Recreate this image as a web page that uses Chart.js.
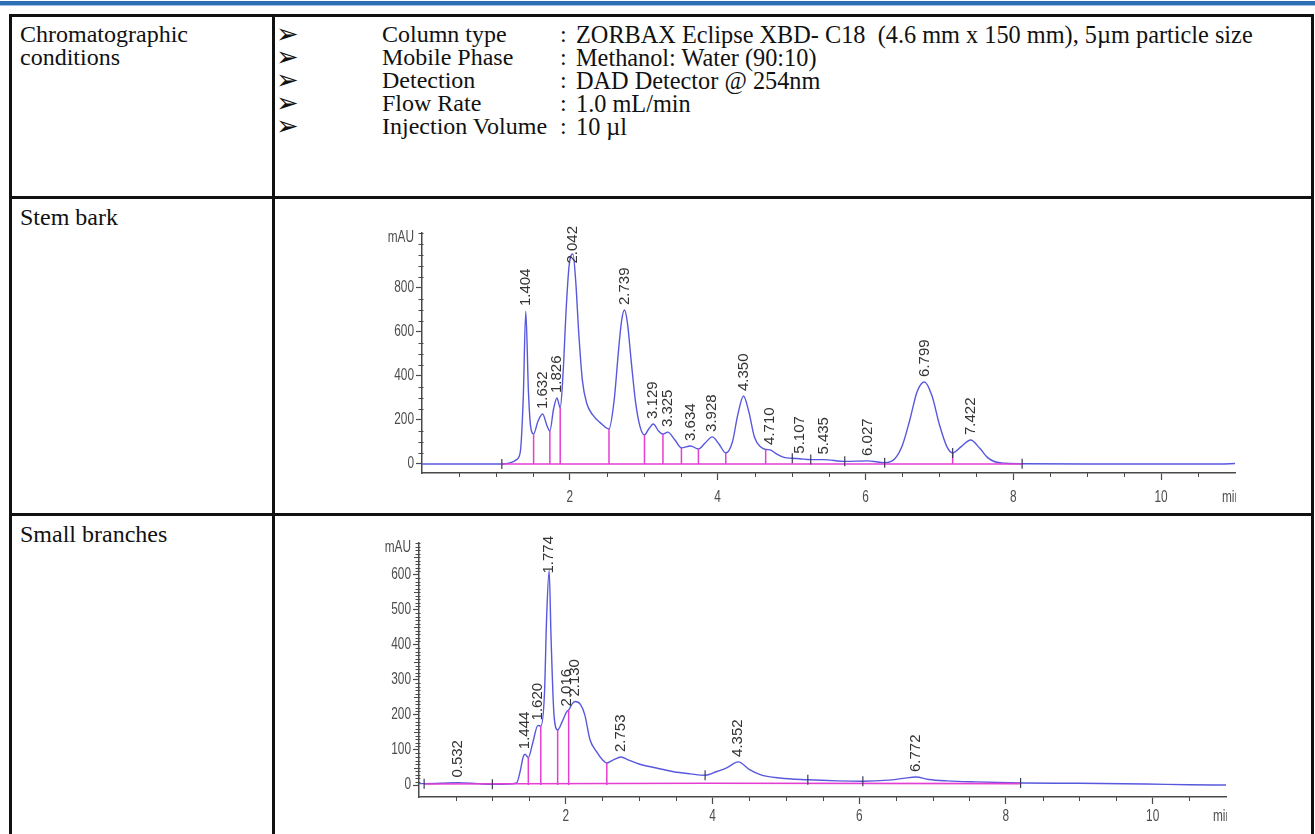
<!DOCTYPE html>
<html>
<head>
<meta charset="utf-8">
<script src="https://cdn.jsdelivr.net/npm/chart.js@4.4.1/dist/chart.umd.min.js"></script>
<style>
  html, body { margin: 0; padding: 0; background: #fff; }
  body { width: 1315px; height: 834px; position: relative; overflow: hidden;
         font-family: 'Liberation Serif', 'Times New Roman', serif; color: #111; }
  .rule { position: absolute; left: 0; top: 1px; width: 1315px; height: 4px; background: #2d6fb6; }
  .rule2 { position: absolute; left: 0; top: 5px; width: 1315px; height: 1px; background: #9cc0e4; }
  .b { position: absolute; background: #111; z-index: 5; }
  .t { position: absolute; font-size: 24px; line-height: 23px; white-space: pre; }
  .v { font-size: 24.3px; }
  .arw { font-family: 'DejaVu Sans', sans-serif; font-size: 27px; }
  canvas { position: absolute; }
</style>
</head>
<body>
<div class="rule"></div><div class="rule2"></div>

<!-- table grid -->
<div class="b" style="left:9px;top:14px;width:1305px;height:3px"></div>
<div class="b" style="left:9px;top:14px;width:3px;height:820px"></div>
<div class="b" style="left:1311px;top:14px;width:3px;height:820px"></div>
<div class="b" style="left:272px;top:14px;width:3px;height:820px"></div>
<div class="b" style="left:9px;top:196px;width:1305px;height:3px"></div>
<div class="b" style="left:9px;top:513px;width:1305px;height:3px"></div>

<!-- row 1: conditions -->
<div class="t" style="left:20px;top:23px">Chromatographic</div>
<div class="t" style="left:20px;top:46px">conditions</div>

<div class="t arw" style="left:276px;top:22px">➢</div>
<div class="t arw" style="left:276px;top:45px">➢</div>
<div class="t arw" style="left:276px;top:68px">➢</div>
<div class="t arw" style="left:276px;top:91px">➢</div>
<div class="t arw" style="left:276px;top:114px">➢</div>

<div class="t" style="left:382px;top:23px">Column type</div>
<div class="t" style="left:382px;top:46px">Mobile Phase</div>
<div class="t" style="left:382px;top:69px">Detection</div>
<div class="t" style="left:382px;top:92px">Flow Rate</div>
<div class="t" style="left:382px;top:115px">Injection Volume</div>

<div class="t" style="left:560px;top:23px">:</div>
<div class="t" style="left:560px;top:46px">:</div>
<div class="t" style="left:560px;top:69px">:</div>
<div class="t" style="left:560px;top:92px">:</div>
<div class="t" style="left:560px;top:115px">:</div>
<div class="t v" style="left:576px;top:23px">ZORBAX Eclipse XBD- C18  (4.6 mm x 150 mm), 5µm particle size</div>
<div class="t v" style="left:576px;top:46px">Methanol: Water (90:10)</div>
<div class="t v" style="left:576px;top:69px">DAD Detector @ 254nm</div>
<div class="t v" style="left:576px;top:92px">1.0 mL/min</div>
<div class="t v" style="left:576px;top:115px">10 µl</div>

<!-- rows 2 and 3 -->
<div class="t" style="left:20px;top:206px">Stem bark</div>
<div class="t" style="left:20px;top:523px">Small branches</div>

<canvas id="stem" width="1034" height="313" style="left:277px;top:199px"></canvas>
<canvas id="branch" width="1034" height="317" style="left:277px;top:517px"></canvas>

<script>
// shared time axis (min)
const timeTicks = [2, 4, 6, 8, 10];

// ---- Stem bark chromatogram (mAU vs min) ----
const stemTicks = [0, 200, 400, 600, 800];
const stemTime = [0, 0.5, 1.0, 1.08, 1.2, 1.28, 1.33, 1.37, 1.404, 1.44, 1.47, 1.51, 1.57, 1.632, 1.69, 1.73,
  1.78, 1.826, 1.87, 1.91, 1.95, 1.99, 2.042, 2.08, 2.12, 2.17, 2.23, 2.31, 2.41, 2.53, 2.60, 2.66, 2.70,
  2.739, 2.78, 2.83, 2.89, 2.95, 3.01, 3.07, 3.129, 3.20, 3.26, 3.325, 3.42, 3.51, 3.634, 3.74, 3.83, 3.928,
  4.02, 4.11, 4.20, 4.27, 4.350, 4.42, 4.50, 4.58, 4.65, 4.710, 4.80, 4.90, 5.01, 5.107, 5.26, 5.435, 5.72,
  6.027, 6.26, 6.40, 6.50, 6.60, 6.70, 6.799, 6.90, 7.00, 7.10, 7.18, 7.30, 7.422, 7.55, 7.65, 7.75, 7.90,
  8.12, 9.0, 10.0, 10.8, 11.0];
const stemAbs = [0, 0, 0, 0, 6, 20, 55, 300, 695, 330, 170, 137, 195, 227, 175, 150,
  250, 300, 255, 420, 700, 900, 955, 830, 600, 380, 275, 223, 188, 159, 290, 520, 650,
  700, 640, 470, 280, 170, 132, 160, 182, 150, 136, 145, 110, 73, 82, 68, 95, 123,
  90, 50, 100, 220, 309, 240, 120, 78, 66, 64, 45, 30, 26, 24, 20, 20, 12,
  14, 6, 25, 85, 200, 330, 373, 310, 180, 80, 50, 80, 109, 70, 30, 10, 3,
  1, 0, 0, 0, 2];
const stemPeaks = [1.404, 1.632, 1.826, 2.042, 2.739, 3.129, 3.325, 3.634, 3.928, 4.350, 4.710, 5.107, 5.435,
  6.027, 6.799, 7.422];
const stemDrops = [1.51, 1.73, 1.87, 2.53, 3.01, 3.26, 3.51, 3.74, 4.11, 4.65, 7.18];
const stemMarks = [1.08, 5.01, 5.26, 5.72, 6.26, 7.18, 8.12];
const stemBaseTime = [1.08, 8.12];
const stemBaseAbs = [0, 0];

// ---- Small branches chromatogram (mAU vs min) ----
const branchTicks = [0, 100, 200, 300, 400, 500, 600];
const branchTime = [0, 0.07, 0.3, 0.532, 0.8, 1.0, 1.2, 1.33, 1.38, 1.42, 1.444, 1.49, 1.55, 1.620, 1.66, 1.71,
  1.74, 1.774, 1.80, 1.84, 1.89, 1.95, 2.016, 2.04, 2.09, 2.130, 2.20, 2.26, 2.33, 2.42, 2.50, 2.56, 2.65,
  2.753, 2.85, 3.0, 3.25, 3.47, 3.7, 3.90, 4.05, 4.2, 4.352, 4.5, 4.65, 4.92, 5.3, 5.7, 6.05, 6.4, 6.6,
  6.772, 6.95, 7.2, 7.6, 8.2, 9.0, 9.9, 10.5, 11.0];
const branchAbs = [4, 4, 5, 7, 4, 2, 3, 6, 40, 80, 88, 78, 120, 170, 168, 260,
  480, 612, 420, 200, 157, 180, 210, 214, 232, 238, 230, 200, 130, 95, 72, 63, 72,
  80, 72, 60, 48, 38, 32, 28, 38, 50, 66, 45, 30, 20, 15, 12, 11, 14, 19,
  23, 16, 12, 9, 6, 5, 3, 1, 0];
const branchPeaks = [0.532, 1.444, 1.620, 1.774, 2.016, 2.130, 2.753, 4.352, 6.772];
const branchDrops = [1.49, 1.66, 1.89, 2.04, 2.56];
const branchMarks = [0.07, 1.0, 3.90, 5.3, 6.05, 8.2];
const branchBaseTime = [0.07, 3.90, 8.2];
const branchBaseAbs = [3, 5, 4];

const TRACE = 'rgb(88,88,222)';
const INTEG = 'rgb(228,62,210)';
const AXIS = '#4a4a4a';
const TICK_FONT = "16px 'Liberation Sans', Arial, sans-serif";
const LABEL_FONT = "15px 'Liberation Sans', Arial, sans-serif";
const SQUEEZE = 0.74;   // condensed look of the instrument's axis lettering

function valueAt(ts, vs, t) {
  let best = 0;
  for (let i = 0; i < ts.length; i++) {
    if (Math.abs(ts[i] - t) < Math.abs(ts[best] - t)) best = i;
  }
  return vs[best];
}

function narrowText(ctx, txt, x, y, align) {
  ctx.save();
  ctx.translate(x, y);
  ctx.scale(SQUEEZE, 1);
  ctx.textAlign = align;
  ctx.textBaseline = 'middle';
  ctx.fillText(txt, 0, 0);
  ctx.restore();
}

// integration marks, minor ticks, axis lettering, retention-time labels
const chromaDecor = {
  id: 'chromaDecor',
  afterDatasetsDraw(chart, args, o) {
    const ctx = chart.ctx, xs = chart.scales.x, ys = chart.scales.y, a = chart.chartArea;
    ctx.save();

    // magenta drop lines at valley times
    ctx.strokeStyle = INTEG; ctx.lineWidth = 1.5;
    o.drops.forEach(t => {
      const x = xs.getPixelForValue(t);
      ctx.beginPath();
      ctx.moveTo(x, ys.getPixelForValue(0));
      ctx.lineTo(x, ys.getPixelForValue(valueAt(o.times, o.abs, t)));
      ctx.stroke();
    });

    // short peak start/end marks
    ctx.strokeStyle = '#3a3a5a'; ctx.lineWidth = 1.2;
    o.marks.forEach(t => {
      const x = xs.getPixelForValue(t);
      const y = ys.getPixelForValue(valueAt(o.times, o.abs, t));
      ctx.beginPath(); ctx.moveTo(x, y - 5); ctx.lineTo(x, y + 5); ctx.stroke();
    });

    // minor ticks on y axis
    ctx.strokeStyle = AXIS; ctx.lineWidth = 1;
    for (let v = o.yMinor; v <= ys.max; v += o.yMinor) {
      if (o.yTicks.includes(v)) continue;
      const y = Math.round(ys.getPixelForValue(v)) + 0.5;
      const len = (o.yMid && v % o.yMid === 0) ? 5 : 3.5;
      ctx.beginPath(); ctx.moveTo(a.left - len, y); ctx.lineTo(a.left + 1.5, y); ctx.stroke();
    }
    // minor ticks on time axis every 0.5 min
    for (let t = 0.5; t < xs.max; t += 0.5) {
      if (timeTicks.includes(t)) continue;
      const x = Math.round(xs.getPixelForValue(t)) + 0.5;
      ctx.beginPath(); ctx.moveTo(x, a.bottom); ctx.lineTo(x, a.bottom + 4); ctx.stroke();
    }

    // axis numbers taken from the scales' own ticks
    ctx.font = TICK_FONT; ctx.fillStyle = '#4d4d4d';
    ys.ticks.forEach(tk => narrowText(ctx, String(tk.value), a.left - 8, ys.getPixelForValue(tk.value), 'right'));
    xs.ticks.forEach(tk => narrowText(ctx, String(tk.value), xs.getPixelForValue(tk.value), a.bottom + o.xLabelGap, 'center'));
    narrowText(ctx, 'mAU', a.left - 8, a.top + 5, 'right');
    ctx.save();
    ctx.beginPath(); ctx.rect(a.left, a.bottom, a.right - a.left + 1, 40); ctx.clip();
    narrowText(ctx, 'min', a.right - 13, a.bottom + o.xLabelGap, 'left');
    ctx.restore();

    // retention-time labels, rotated, kept inside the plot top
    ctx.font = LABEL_FONT; ctx.fillStyle = '#333';
    ctx.textAlign = 'left'; ctx.textBaseline = 'middle';
    o.peaks.forEach(t => {
      const txt = t.toFixed(3);
      const w = ctx.measureText(txt).width;
      const x = xs.getPixelForValue(t);
      const yApex = ys.getPixelForValue(valueAt(o.times, o.abs, t));
      const yb = Math.max(yApex - 5, a.top - 7 + w);
      ctx.save(); ctx.translate(x, yb); ctx.rotate(-Math.PI / 2);
      ctx.fillText(txt, 0, 0);
      ctx.restore();
    });

    ctx.restore();
  }
};

function makeChart(id, c) {
  const trace = c.times.map((t, i) => ({ x: t, y: c.abs[i] }));
  const base = c.baseTime.map((t, i) => ({ x: t, y: c.baseAbs[i] }));
  return new Chart(document.getElementById(id), {
    type: 'line',
    data: {
      datasets: [
        { data: base, borderColor: INTEG, borderWidth: 1.6, pointRadius: 0, tension: 0, order: 0 },
        { data: trace, borderColor: TRACE, borderWidth: 1.4, pointRadius: 0,
          cubicInterpolationMode: 'monotone', order: 1 }
      ]
    },
    options: {
      responsive: false, animation: false, devicePixelRatio: 1,
      layout: { padding: c.padding },
      plugins: {
        legend: { display: false }, tooltip: { enabled: false },
        chromaDecor: { times: c.times, abs: c.abs, peaks: c.peaks, drops: c.drops, marks: c.marks,
                       yTicks: c.yTicks, yMinor: c.yMinor, yMid: c.yMid, xLabelGap: c.xLabelGap }
      },
      scales: {
        x: {
          type: 'linear', min: 0, max: 11,
          afterBuildTicks: s => { s.ticks = timeTicks.map(v => ({ value: v })); },
          afterFit: s => { s.height = c.xHeight; },
          grid: { display: true, drawOnChartArea: false, drawTicks: true, tickLength: 7,
                  tickColor: AXIS, tickWidth: 1.2 },
          border: { display: true, color: AXIS, width: 1.5 },
          ticks: { display: false }
        },
        y: {
          type: 'linear', min: c.yMin, max: c.yMax,
          afterBuildTicks: s => { s.ticks = c.yTicks.map(v => ({ value: v })); },
          afterFit: s => { s.width = c.yWidth; },
          grid: { display: true, drawOnChartArea: false, drawTicks: true, tickLength: 6,
                  tickColor: AXIS, tickWidth: 1.2 },
          border: { display: true, color: AXIS, width: 1.5 },
          ticks: { display: false }
        }
      }
    },
    plugins: [chromaDecor]
  });
}

makeChart('stem', {
  times: stemTime, abs: stemAbs, peaks: stemPeaks, drops: stemDrops, marks: stemMarks,
  baseTime: stemBaseTime, baseAbs: stemBaseAbs,
  yTicks: stemTicks, yMinor: 50, yMid: 0, yMin: -41, yMax: 1050,
  padding: { top: 34, right: 76, bottom: 0, left: 0 }, yWidth: 145, xHeight: 39, xLabelGap: 25
});

makeChart('branch', {
  times: branchTime, abs: branchAbs, peaks: branchPeaks, drops: branchDrops, marks: branchMarks,
  baseTime: branchBaseTime, baseAbs: branchBaseAbs,
  yTicks: branchTicks, yMinor: 10, yMid: 50, yMin: -34, yMax: 690,
  padding: { top: 26, right: 85, bottom: 0, left: 0 }, yWidth: 142, xHeight: 37, xLabelGap: 20
});
</script>
</body>
</html>
